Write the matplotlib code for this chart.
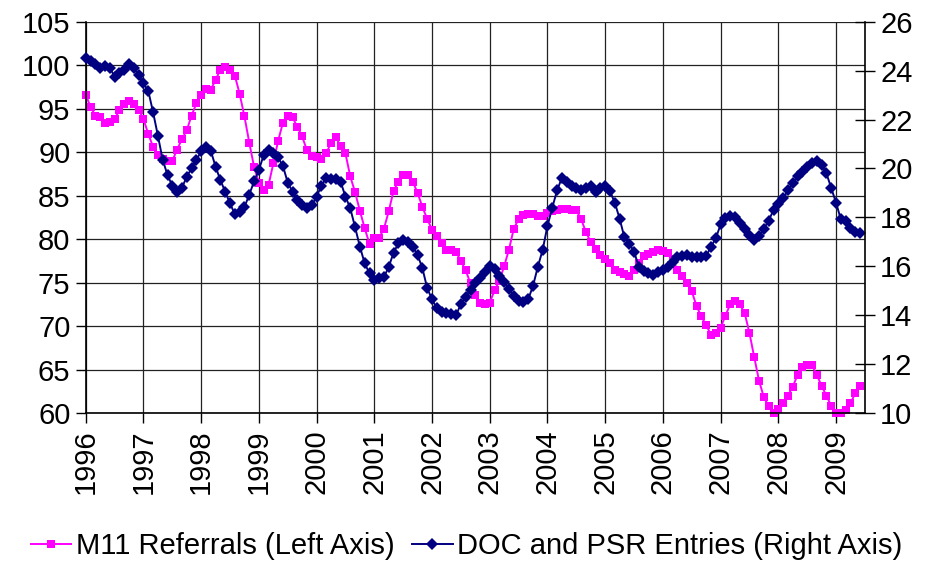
import numpy as np
import matplotlib
matplotlib.use("Agg")
import matplotlib.pyplot as plt

plt.rcParams.update({
    "font.family": ["Liberation Sans", "DejaVu Sans"],
    "font.size": 21,
})

# monthly values, Jan 1996 .. Jun 2009
m11_referrals = [
    96.6, 95.2, 94.2, 94.0, 93.4, 93.5, 93.8, 94.8, 95.5, 95.9, 95.5, 94.9,   # 1996
    93.8, 92.1, 90.6, 89.7, 89.2, 89.0, 89.0, 90.3, 91.5, 92.5, 94.2, 95.6,   # 1997
    96.6, 97.3, 97.2, 98.3, 99.5, 99.8, 99.4, 98.8, 96.7, 94.1, 91.1, 88.3,   # 1998
    86.5, 85.6, 86.2, 88.7, 91.3, 93.4, 94.2, 94.0, 92.9, 91.8, 90.2, 89.5,   # 1999
    89.4, 89.25, 89.85, 91.1, 91.75, 90.65, 89.85, 87.2, 85.4, 83.25, 81.25, 79.45,  # 2000
    80.15, 80.15, 81.2, 83.2, 85.55, 86.6, 87.4, 87.4, 86.6, 85.3, 83.7, 82.3,  # 2001
    81.1, 80.4, 79.6, 78.7, 78.7, 78.5, 77.5, 76.4, 74.9, 73.6, 72.7, 72.5,   # 2002
    72.7, 74.1, 75.2, 76.9, 78.8, 81.2, 82.3, 82.8, 82.9, 82.9, 82.6, 82.6,   # 2003
    83.0, 83.2, 83.4, 83.5, 83.5, 83.4, 83.3, 82.3, 80.8, 79.7, 78.9, 78.2,   # 2004
    77.7, 77.3, 76.4, 76.2, 76.0, 75.8, 76.4, 77.3, 78.0, 78.3, 78.5, 78.7,   # 2005
    78.6, 78.4, 77.7, 76.5, 75.8, 75.0, 74.0, 72.3, 71.1, 70.1, 69.0, 69.2,   # 2006
    69.8, 71.2, 72.5, 72.9, 72.5, 71.5, 69.2, 66.4, 63.7, 61.8, 60.8, 60.0,   # 2007
    60.5, 61.2, 62.0, 63.0, 64.4, 65.3, 65.5, 65.5, 64.4, 63.1, 62.0, 60.8,   # 2008
    60.0, 60.0, 60.4, 61.1, 62.3, 63.1,                                       # 2009
]

doc_psr_entries = [
    24.5, 24.39, 24.26, 24.12, 24.2, 24.12, 23.75, 23.89, 24.03, 24.26, 24.12, 23.82,  # 1996
    23.48, 23.17, 22.3, 21.34, 20.35, 19.73, 19.29, 19.05, 19.21, 19.66, 20.0, 20.35,  # 1997
    20.7, 20.87, 20.72, 20.07, 19.52, 19.05, 18.57, 18.13, 18.23, 18.42, 18.93, 19.47,  # 1998
    19.94, 20.55, 20.77, 20.64, 20.45, 20.1, 19.42, 19.05, 18.71, 18.5, 18.37, 18.5,    # 1999
    18.85, 19.3, 19.6, 19.58, 19.55, 19.45, 18.85, 18.37, 17.6, 16.8, 16.12, 15.71,     # 2000
    15.44, 15.5, 15.55, 15.98, 16.55, 16.94, 17.07, 17.0, 16.8, 16.46, 15.92, 15.1,     # 2001
    14.65, 14.28, 14.14, 14.1, 14.06, 14.0, 14.46, 14.76, 15.05, 15.3, 15.5, 15.75,     # 2002
    16.02, 15.88, 15.62, 15.35, 15.07, 14.78, 14.6, 14.52, 14.65, 15.2, 15.98, 16.67,   # 2003
    17.65, 18.4, 19.1, 19.62, 19.46, 19.3, 19.2, 19.12, 19.22, 19.28, 19.05, 19.2,      # 2004
    19.3, 19.07, 18.6, 17.95, 17.18, 16.93, 16.6, 15.98, 15.82, 15.71, 15.64, 15.78,    # 2005
    15.84, 15.95, 16.17, 16.36, 16.43, 16.45, 16.39, 16.36, 16.36, 16.42, 16.8, 17.14,  # 2006
    17.71, 17.96, 18.07, 18.0, 17.75, 17.52, 17.29, 17.08, 17.23, 17.53, 17.87, 18.3,   # 2007
    18.55, 18.78, 19.1, 19.39, 19.68, 19.87, 20.07, 20.21, 20.32, 20.15, 19.8, 19.2,    # 2008
    18.6, 17.92, 17.86, 17.55, 17.41, 17.35,                                            # 2009
]

years = list(range(1996, 2010))
left_ticks = list(range(60, 106, 5))
right_ticks = list(range(10, 27, 2))

months = 1996 + np.arange(len(m11_referrals)) / 12.0

fig = plt.figure(figsize=(9.33, 5.61), dpi=100)
ax = fig.add_axes([0.0919, 0.2638, 0.927 - 0.0919, 0.9613 - 0.2638])
ax2 = ax.twinx()

l1, = ax.plot(months, m11_referrals, color="#FF00FF", lw=1.4, marker="s",
              markersize=6.4, markeredgewidth=0, clip_on=False,
              label="M11 Referrals (Left Axis)")
l2, = ax2.plot(months, doc_psr_entries, color="#000080", lw=1.4, marker="D",
               markersize=6.4, markeredgewidth=0, clip_on=False,
               label="DOC and PSR Entries (Right Axis)")

ax.set_xlim(1996, 2009.5)
ax.set_ylim(60, 105)
ax2.set_ylim(10, 26)
ax.set_yticks(left_ticks)
ax2.set_yticks(right_ticks)
ax.set_xticks(years)
ax.set_xticklabels([str(y) for y in years], rotation=90)

ax.grid(True, color="#222222", lw=0.9)
ax.set_axisbelow(True)

for a in (ax, ax2):
    for s in a.spines.values():
        s.set_visible(False)
ax.spines["left"].set_visible(True)
ax.spines["bottom"].set_visible(True)
ax2.spines["right"].set_visible(True)
for s in (ax.spines["left"], ax.spines["bottom"], ax2.spines["right"]):
    s.set_color("black")
    s.set_linewidth(1.2)

ax.tick_params(axis="both", direction="out", length=7, width=1, colors="black", pad=4)
ax.tick_params(axis="x", pad=5)
ax2.tick_params(axis="y", direction="inout", length=14, width=1, colors="black", pad=4)

fig.legend(handles=[l1, l2], loc="lower center", bbox_to_anchor=(0.5, -0.045),
           ncol=2, frameon=False, handlelength=1.4, handletextpad=0.15,
           columnspacing=0.6, fontsize=21)

fig.savefig("out.png", dpi=100)
